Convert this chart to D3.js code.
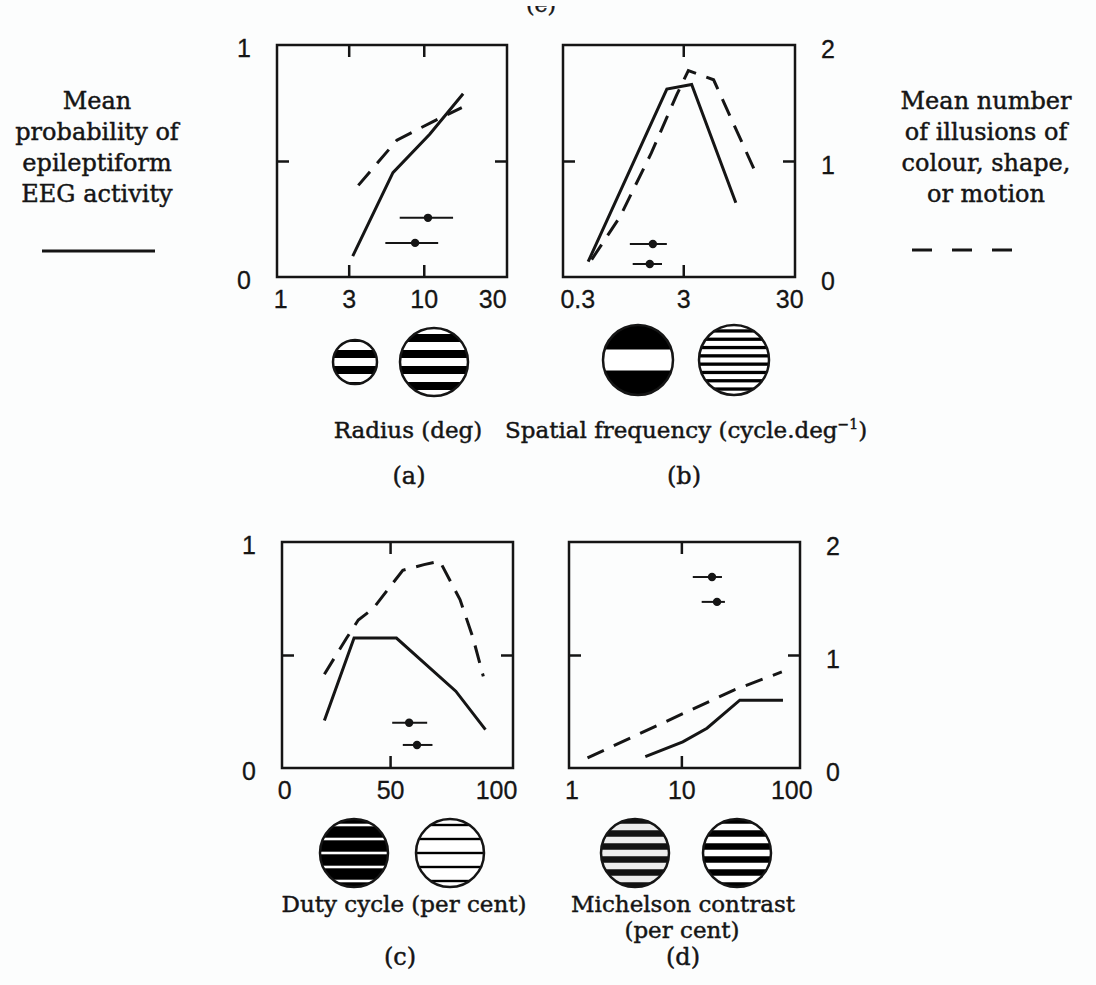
<!DOCTYPE html>
<html>
<head>
<meta charset="utf-8">
<script src="https://cdnjs.cloudflare.com/ajax/libs/d3/7.8.5/d3.min.js"></script>
<style>
    body { margin: 0; background: #fcfdfd; }
    svg { display: block; }
    .serif { font-family: "DejaVu Serif", serif; fill: #151515; stroke: #151515; stroke-width: 0.45px; }
    .num text { font-family: "Liberation Sans", Arial, sans-serif; font-size: 25px; fill: #151515; stroke: #151515; stroke-width: 0.3px; }
    .tk line { stroke: #151515; stroke-width: 2.5; }
</style>
</head>
<body>
<svg id="chart" width="1096" height="985"></svg>
<script>
"use strict";

// (a) radius of the grating, deg
const radiusEEG = [[3.2, 0.09], [6.1, 0.45], [11, 0.615], [18.8, 0.79]];
const radiusIllusions = [[3.5, 0.79], [6.5, 1.18], [11.6, 1.34], [18.4, 1.46]];
const radiusBars = [[6.8, 10.7, 16, 0.255], [5.4, 8.7, 12.6, 0.147]]; // lo, mean, hi, height
const radiusTicks = [1, 3, 10, 30];
const radiusInner = [3, 10];

// (b) spatial frequency, cycle/deg
const freqEEG = [[0.38, 0.066], [2.1, 0.81], [3.6, 0.83], [9.4, 0.32]];
const freqIllusions = [[0.41, 0.15], [0.76, 0.52], [1.5, 1.07], [2.6, 1.57], [3.35, 1.78], [5.8, 1.70], [15.3, 0.85]];
const freqBars = [[0.94, 1.55, 2.1, 0.142], [1.0, 1.45, 1.89, 0.056]];
const freqTicks = [0.3, 3, 30];
const freqInner = [3];

// (c) duty cycle, per cent
const dutyEEG = [[19, 0.21], [33, 0.575], [53, 0.575], [81, 0.34], [95, 0.17]];
const dutyIllusions = [[19, 0.83], [29.5, 1.15], [35, 1.31], [42, 1.41], [56, 1.75], [66, 1.80], [73.5, 1.83], [83, 1.49], [89, 1.16], [94, 0.81]];
const dutyBars = [[51, 59, 67.5, 0.2], [56, 62.7, 70, 0.102]];
const dutyTicks = [0, 50, 100];
const dutyInner = [50];

// (d) Michelson contrast, per cent
const contrastEEG = [[4.7, 0.05], [10.3, 0.116], [17.1, 0.176], [34, 0.30], [84, 0.30]];
const contrastIllusions = [[1.4, 0.09], [12, 0.51], [30, 0.69], [82, 0.85]];
const contrastBars = [[12.7, 19, 23.4, 0.845], [15.3, 21.1, 24.9, 0.735]];
const contrastTicks = [1, 10, 100];
const contrastInner = [10];

// y axes: probability (left, 0-1) and number of illusions (right, 0-2)
const probTicks = [0, 1];
const probInner = [0.5];
const illusionTicks = [0, 1, 2];
const illusionInner = [1];

const svg = d3.select('#chart');
const defs = svg.append('defs');
const ink = '#151515';

const panels = [
    { box: [277, 45, 230, 232], log: true, domain: [0.95, 38], ticks: radiusTicks, inner: radiusInner, side: 'left',
      eeg: radiusEEG, ill: radiusIllusions, bars: radiusBars,
      icons: [{ cx: 355, cy: 362, r: 22, period: 16, light: 8 },
              { cx: 434, cy: 362, r: 34, period: 16, light: 8 }] },
    { box: [563, 45, 232, 232], log: true, domain: [0.22, 34], ticks: freqTicks, inner: freqInner, side: 'right',
      eeg: freqEEG, ill: freqIllusions, bars: freqBars,
      icons: [{ cx: 638, cy: 360, r: 35, period: 80, light: 21 },
              { cx: 734, cy: 360, r: 35, period: 8.3, light: 5 }] },
    { box: [282, 542, 231, 226], log: false, domain: [-1, 108], ticks: dutyTicks, inner: dutyInner, side: 'left',
      eeg: dutyEEG, ill: dutyIllusions, bars: dutyBars,
      icons: [{ cx: 354, cy: 853, r: 34, period: 14, light: 2.6 },
              { cx: 450, cy: 853, r: 34, period: 14, light: 11.6, offset: 7 }] },
    { box: [569, 542, 231, 226], log: true, domain: [0.95, 120], ticks: contrastTicks, inner: contrastInner, side: 'right',
      eeg: contrastEEG, ill: contrastIllusions, bars: contrastBars,
      icons: [{ cx: 635, cy: 853, r: 34, period: 13, light: 6.5, dark: '#111', lightColor: '#ececec' },
              { cx: 737, cy: 853, r: 34, period: 13, light: 6.5 }] }
];

let clipId = 0;

panels.forEach(function (p) {
    const [bx, by, bw, bh] = p.box;
    const g = svg.append('g').attr('transform', 'translate(' + bx + ',' + by + ')');
    const x = (p.log ? d3.scaleLog() : d3.scaleLinear()).domain(p.domain).range([0, bw]);
    const yProb = d3.scaleLinear().domain([0, 1]).range([bh, 0]);
    const yIll = d3.scaleLinear().domain([0, 2]).range([bh, 0]);
    const noDomain = s => s.select('.domain').remove();

    g.append('rect')
        .attr('width', bw).attr('height', bh)
        .attr('fill', 'none').attr('stroke', ink).attr('stroke-width', 2.5);

    // small ticks pointing inwards on all four sides
    g.append('g').attr('class', 'tk').attr('transform', 'translate(0,' + bh + ')')
        .call(d3.axisBottom(x).tickValues(p.inner).tickSize(-12).tickFormat('')).call(noDomain);
    g.append('g').attr('class', 'tk')
        .call(d3.axisTop(x).tickValues(p.inner).tickSize(-12).tickFormat('')).call(noDomain);
    g.append('g').attr('class', 'tk')
        .call(d3.axisLeft(yProb).tickValues(probInner).tickSize(-12).tickFormat('')).call(noDomain);
    g.append('g').attr('class', 'tk').attr('transform', 'translate(' + bw + ',0)')
        .call(d3.axisRight(yIll).tickValues(illusionInner).tickSize(-12).tickFormat('')).call(noDomain);

    // tick labels
    g.append('g').attr('class', 'num').attr('transform', 'translate(0,' + bh + ')')
        .call(d3.axisBottom(x).tickValues(p.ticks).tickFormat(d => String(d)).tickSize(0).tickPadding(13))
        .call(noDomain);
    if (p.side === 'left') {
        g.append('g').attr('class', 'num')
            .call(d3.axisLeft(yProb).tickValues(probTicks).tickFormat(d => String(d)).tickSize(0).tickPadding(26))
            .call(noDomain)
            .selectAll('text').attr('dy', '0.45em');
    } else {
        g.append('g').attr('class', 'num').attr('transform', 'translate(' + bw + ',0)')
            .call(d3.axisRight(yIll).tickValues(illusionTicks).tickFormat(d => String(d)).tickSize(0).tickPadding(26))
            .call(noDomain)
            .selectAll('text').attr('dy', '0.5em');
    }

    // curves
    g.append('path').datum(p.eeg)
        .attr('d', d3.line().x(d => x(d[0])).y(d => yProb(d[1])))
        .attr('fill', 'none').attr('stroke', ink).attr('stroke-width', 3);
    g.append('path').datum(p.ill)
        .attr('d', d3.line().x(d => x(d[0])).y(d => yIll(d[1])))
        .attr('fill', 'none').attr('stroke', ink).attr('stroke-width', 3)
        .attr('stroke-dasharray', '18,11');

    // horizontal error bars with mean dot
    const bar = g.selectAll('g.bar').data(p.bars).join('g').attr('class', 'bar');
    bar.append('line')
        .attr('x1', d => x(d[0])).attr('x2', d => x(d[2]))
        .attr('y1', d => yProb(d[3])).attr('y2', d => yProb(d[3]))
        .attr('stroke', ink).attr('stroke-width', 2);
    bar.append('circle')
        .attr('cx', d => x(d[1])).attr('cy', d => yProb(d[3])).attr('r', 4.2)
        .attr('fill', ink);

    // striped disc icons under each panel
    p.icons.forEach(function (ic) {
        const id = 'disc' + (clipId++);
        defs.append('clipPath').attr('id', id)
            .append('circle').attr('cx', ic.cx).attr('cy', ic.cy).attr('r', ic.r);
        const ig = svg.append('g').attr('clip-path', 'url(#' + id + ')');
        ig.append('rect')
            .attr('x', ic.cx - ic.r).attr('y', ic.cy - ic.r)
            .attr('width', 2 * ic.r).attr('height', 2 * ic.r)
            .attr('fill', ic.dark || '#000');
        const n = Math.ceil(ic.r / ic.period) + 1;
        ig.selectAll('rect.band')
            .data(d3.range(-n, n + 1).map(k => ic.cy + (ic.offset || 0) + k * ic.period))
            .join('rect').attr('class', 'band')
            .attr('x', ic.cx - ic.r).attr('width', 2 * ic.r)
            .attr('y', c => c - ic.light / 2).attr('height', ic.light)
            .attr('fill', ic.lightColor || '#fff');
        svg.append('circle')
            .attr('cx', ic.cx).attr('cy', ic.cy).attr('r', ic.r)
            .attr('fill', 'none').attr('stroke', ink).attr('stroke-width', 2.5);
    });
});

// axis captions and panel letters
function caption(txt, x, y, anchor, size) {
    return svg.append('text').attr('class', 'serif')
        .attr('x', x).attr('y', y)
        .attr('text-anchor', anchor || 'middle')
        .style('font-size', (size || 23) + 'px')
        .text(txt);
}

caption('Radius (deg)', 408, 438);
const sf = caption('Spatial frequency (cycle.deg', 505, 438, 'start');
sf.append('tspan').attr('dy', -9).style('font-size', '14px').text('\u22121');
sf.append('tspan').attr('dy', 9).text(')');
caption('(a)', 409, 484, 'middle', 24);
caption('(b)', 684, 484, 'middle', 24);
caption('Duty cycle (per cent)', 404, 912);
caption('Michelson contrast', 683, 912);
caption('(per cent)', 682, 938);
caption('(c)', 400, 965, 'middle', 24);
caption('(d)', 683, 965, 'middle', 24);

// side legends
const leftLegend = ['Mean', 'probability of', 'epileptiform', 'EEG activity'];
const rightLegend = ['Mean number', 'of illusions of', 'colour, shape,', 'or motion'];
leftLegend.forEach((t, i) => caption(t, 97, 109 + i * 31, 'middle', 24));
rightLegend.forEach((t, i) => caption(t, 986, 109 + i * 31, 'middle', 24));

svg.append('line').attr('x1', 42).attr('x2', 155).attr('y1', 251).attr('y2', 251)
    .attr('stroke', ink).attr('stroke-width', 3);
svg.append('line').attr('x1', 912).attr('x2', 1013).attr('y1', 250).attr('y2', 250)
    .attr('stroke', ink).attr('stroke-width', 3).attr('stroke-dasharray', '20,20');

// panel letter cut off at the very top of the page (only its lower edge shows)
caption('(e)', 541, 12, 'middle', 22);
svg.append('rect').attr('x', 500).attr('y', 0).attr('width', 90).attr('height', 6).attr('fill', '#fcfdfd');
</script>
</body>
</html>
